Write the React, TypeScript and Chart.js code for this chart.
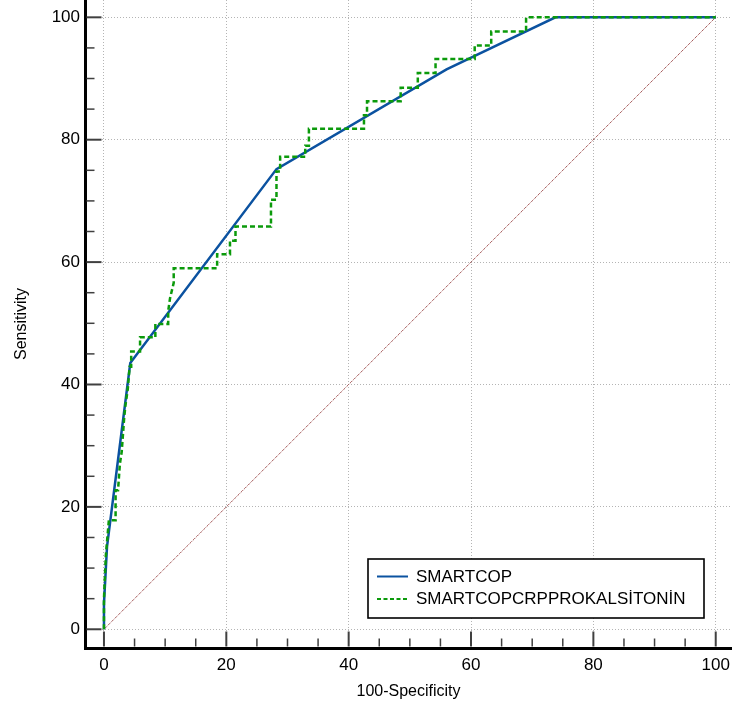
import { useEffect, useRef } from "react";
import { Chart, registerables } from "chart.js";

Chart.register(...registerables);

const FONT = "'Liberation Sans', Arial, sans-serif";

const AXIS_TICKS = [0, 20, 40, 60, 80, 100];
const MINOR_TICKS = [0, 5, 10, 15, 20, 25, 30, 35, 40, 45, 50, 55, 60, 65, 70, 75, 80, 85, 90, 95, 100];

const SMARTCOP_LABEL = "SMARTCOP";
const SMARTCOP_X = [0, 0, 0.5, 4.3, 28.2, 56, 73.8, 100];
const SMARTCOP_Y = [0, 4.2, 13.5, 43.5, 75.2, 91.5, 100, 100];

const COMBINED_LABEL = "SMARTCOPCRPPROKALSİTONİN";
const COMBINED_X = [
  0, 0, 0.3, 0.8, 1.9, 1.9, 2.3, 2.6, 2.9, 3.3, 3.5, 3.9, 4.2, 4.45, 4.45, 5.9, 5.9, 8.4, 8.4, 10.5,
  10.5, 10.8, 11.4, 11.4, 18.5, 18.5, 20.6, 20.6, 21.5, 21.5, 27.3, 27.3, 28.2, 28.2, 28.8, 28.8,
  32.9, 32.9, 33.5, 33.5, 42.5, 42.5, 43, 43, 48.5, 48.5, 51.3, 51.3, 54.2, 54.2, 60.6, 60.6, 63.3,
  63.3, 69, 69, 100,
];
const COMBINED_Y = [
  0, 5, 12, 17.8, 17.8, 22.7, 22.7, 27, 29, 34.5, 36.5, 39.3, 42.9, 42.9, 45.4, 45.4, 47.7, 47.7, 49.9, 49.9,
  52, 54.1, 56.6, 59, 59, 61.3, 61.3, 63.5, 63.5, 65.8, 65.8, 70.2, 70.2, 74.8, 74.8, 77.2,
  77.2, 79, 79, 81.8, 81.8, 84, 84, 86.3, 86.3, 88.5, 88.5, 90.9, 90.9, 93.2, 93.2, 95.4, 95.4,
  97.7, 97.7, 100, 100,
];

const DIAGONAL_X = [0, 100];
const DIAGONAL_Y = [0, 100];

const toPoints = (xs: number[], ys: number[]) => xs.map((x, i) => ({ x, y: ys[i] }));

const tickMarksPlugin = {
  id: "inwardTicks",
  afterDraw(chart: any) {
    const { ctx, chartArea, scales } = chart;
    const xs = scales.x;
    const ys = scales.y;
    ctx.save();
    ctx.strokeStyle = "#404040";
    MINOR_TICKS.forEach((v) => {
      const major = v % 20 === 0;
      const len = major ? 15 : 8;
      ctx.lineWidth = major ? 2 : 1.5;
      const px = xs.getPixelForValue(v);
      ctx.beginPath();
      ctx.moveTo(px, chartArea.bottom - 1.5);
      ctx.lineTo(px, chartArea.bottom - 1.5 - len);
      ctx.stroke();
      const py = ys.getPixelForValue(v);
      ctx.beginPath();
      ctx.moveTo(chartArea.left + 1.5, py);
      ctx.lineTo(chartArea.left + 1.5 + len, py);
      ctx.stroke();
    });
    ctx.restore();
  },
};

const legendPlugin = {
  id: "boxLegend",
  afterDraw(chart: any) {
    const { ctx, chartArea } = chart;
    const items = chart.data.datasets
      .filter((d: any) => !d.hideInLegend)
      .sort((a: any, b: any) => a.legendRank - b.legendRank);
    const w = 336;
    const h = 59;
    const x0 = chartArea.right - 28 - w;
    const y0 = chartArea.bottom - 30 - h;
    ctx.save();
    ctx.fillStyle = "#ffffff";
    ctx.fillRect(x0, y0, w, h);
    ctx.strokeStyle = "#000000";
    ctx.lineWidth = 1.6;
    ctx.strokeRect(x0, y0, w, h);
    ctx.font = `17px ${FONT}`;
    ctx.textBaseline = "middle";
    ctx.textAlign = "left";
    items.forEach((d: any, i: number) => {
      const yy = y0 + 17.5 + i * 22.5;
      ctx.strokeStyle = d.borderColor;
      ctx.lineWidth = 2;
      ctx.setLineDash(d.legendDash || []);
      ctx.beginPath();
      ctx.moveTo(x0 + 9, yy);
      ctx.lineTo(x0 + 40, yy);
      ctx.stroke();
      ctx.setLineDash([]);
      ctx.fillStyle = "#000000";
      ctx.fillText(d.label, x0 + 48, yy + 0.5);
    });
    ctx.restore();
  },
};

export default function App() {
  const canvasRef = useRef<HTMLCanvasElement | null>(null);

  useEffect(() => {
    document.body.style.margin = "0";
    const canvas = canvasRef.current;
    if (!canvas) return;
    const chart = new Chart(canvas, {
      type: "line",
      data: {
        datasets: [
          {
            label: COMBINED_LABEL,
            data: toPoints(COMBINED_X, COMBINED_Y),
            borderColor: "#0b9a0b",
            borderWidth: 2.5,
            borderDash: [5, 3],
            legendDash: [4, 2.5],
            pointRadius: 0,
            tension: 0,
            order: 0,
            legendRank: 2,
          } as any,
          {
            label: SMARTCOP_LABEL,
            data: toPoints(SMARTCOP_X, SMARTCOP_Y),
            borderColor: "#0b52a0",
            borderWidth: 2.5,
            pointRadius: 0,
            tension: 0,
            order: 1,
            legendRank: 1,
          } as any,
          {
            label: "diagonal",
            data: toPoints(DIAGONAL_X, DIAGONAL_Y),
            borderColor: "#7e1414",
            borderWidth: 1,
            borderDash: [1, 1],
            pointRadius: 0,
            tension: 0,
            order: 2,
            hideInLegend: true,
          } as any,
        ],
      },
      options: {
        responsive: false,
        animation: false,
        devicePixelRatio: 1,
        layout: { padding: 0, autoPadding: false },
        plugins: { legend: { display: false }, tooltip: { enabled: false } },
        scales: {
          x: {
            type: "linear",
            min: -3.1,
            max: 102.66,
            afterBuildTicks: (s: any) => {
              s.ticks = AXIS_TICKS.map((v) => ({ value: v }));
            },
            afterFit: (s: any) => {
              s.height = 64;
              s.paddingLeft = 0;
              s.paddingRight = 0;
            },
            grid: { color: "#b4b4b4", lineWidth: 1, drawTicks: false },
            border: { display: true, color: "#000000", width: 3, dash: [1, 2] },
            ticks: {
              padding: 7,
              color: "#000000",
              font: { family: FONT, size: 17 },
              maxRotation: 0,
              autoSkip: false,
            },
            title: {
              display: true,
              text: "100-Specificity",
              color: "#000000",
              font: { family: FONT, size: 16 },
              padding: { top: 0, bottom: 10.4 },
            },
          },
          y: {
            type: "linear",
            min: -3.06,
            max: 102.83,
            afterBuildTicks: (s: any) => {
              s.ticks = AXIS_TICKS.map((v) => ({ value: v }));
            },
            afterFit: (s: any) => {
              s.width = 85;
              s.paddingTop = 0;
              s.paddingBottom = 0;
            },
            grid: { color: "#b4b4b4", lineWidth: 1, drawTicks: false },
            border: { display: true, color: "#000000", width: 3, dash: [1, 2] },
            ticks: {
              padding: 5,
              color: "#000000",
              font: { family: FONT, size: 17 },
              autoSkip: false,
            },
            title: {
              display: true,
              text: "Sensitivity",
              color: "#000000",
              font: { family: FONT, size: 16 },
              padding: { top: 12.4, bottom: 0 },
            },
          },
        },
      } as any,
      plugins: [tickMarksPlugin, legendPlugin],
    });
    return () => chart.destroy();
  }, []);

  return (
    <div style={{ width: 732, height: 712, background: "#ffffff" }}>
      <canvas ref={canvasRef} width={732} height={712} style={{ display: "block" }} />
    </div>
  );
}
